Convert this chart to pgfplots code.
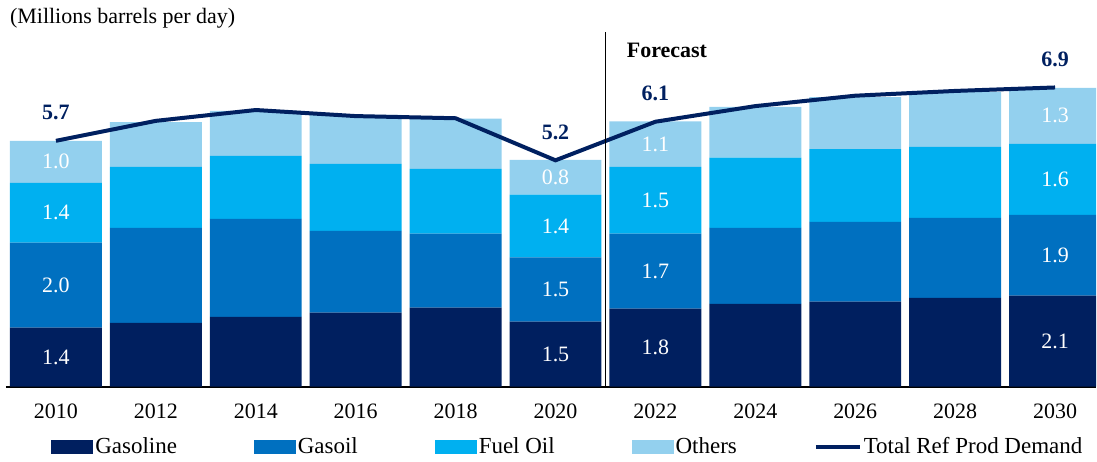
\documentclass[border=0pt]{standalone}
\usepackage{fontspec}
\setmainfont{Liberation Serif}
\usepackage{pgfplots}
\usepackage{pgfplotstable}
\pgfplotsset{compat=1.18}
\definecolor{cGasoline}{HTML}{001F5F}
\definecolor{cGasoil}{HTML}{0070C0}
\definecolor{cFuel}{HTML}{00B0F0}
\definecolor{cOthers}{HTML}{93D0EE}
\definecolor{cLine}{HTML}{002060}

\pgfplotsset{
  mybarleg/.style={legend image code/.code={\fill[##1,draw=none] (0pt,-3.5pt) rectangle (21pt,3.5pt);}},
  mylineleg/.style={legend image code/.code={\draw[##1] (0pt,0pt) -- (22pt,0pt);}},
}

\pgfplotstableread{
x gas gasoil fuel oth tot
0 1.36 1.96 1.38 0.97 5.67
1 1.47 2.19 1.41 1.03 6.13
2 1.61 2.26 1.45 1.04 6.38
3 1.71 1.88 1.55 1.13 6.24
4 1.82 1.71 1.49 1.16 6.19
5 1.50 1.48 1.45 0.80 5.22
6 1.80 1.73 1.54 1.05 6.11
7 1.91 1.75 1.62 1.17 6.47
8 1.96 1.84 1.68 1.20 6.71
9 2.05 1.84 1.64 1.27 6.82
10 2.10 1.86 1.64 1.29 6.90
}\datatable

\begin{document}
\begin{tikzpicture}
\begin{axis}[
  name=main,
  scale only axis, width=545.5pt, height=177.5pt,
  xmin=-0.5, xmax=10.41, ymin=0, ymax=8.18,
  ybar stacked, bar width=0.92,
  axis x line=bottom, axis y line=none,
  x axis line style={-, line width=1pt, black},
  xtick={0,1,2,3,4,5,6,7,8,9,10},
  xticklabels={2010,2012,2014,2016,2018,2020,2022,2024,2026,2028,2030},
  major tick length=0pt,
  xticklabel style={font=\fontsize{11}{13}\selectfont, yshift=-5pt},
  legend columns=5,
  legend style={draw=none, fill=none, inner sep=0pt,
    at={(0,0)}, anchor=west, xshift=22.5pt, yshift=-30pt,
    font=\fontsize{11.5}{13}\selectfont,
    /tikz/every odd column/.append style={column sep=-1pt},
    /tikz/every even column/.append style={column sep=36.5pt}},
  legend cell align=left,
]
\addplot[fill=cGasoline, draw=none, mybarleg] table[x=x, y=gas] {\datatable};
\addlegendentry{Gasoline}
\addplot[fill=cGasoil, draw=none, mybarleg] table[x=x, y=gasoil] {\datatable};
\addlegendentry{Gasoil}
\addplot[fill=cFuel, draw=none, mybarleg] table[x=x, y=fuel] {\datatable};
\addlegendentry{Fuel Oil}
\addplot[fill=cOthers, draw=none, mybarleg] table[x=x, y=oth] {\datatable};
\addlegendentry{Others}
\addlegendimage{cLine, line width=2pt, mylineleg}
\addlegendentry{Total Ref Prod Demand}
\end{axis}

\begin{axis}[
  at={(main.south west)}, anchor=south west,
  scale only axis, width=545.5pt, height=177.5pt,
  xmin=-0.5, xmax=10.41, ymin=0, ymax=8.18, hide axis]
\addplot[draw=cLine, line width=2pt, mark=none] table[x=x, y=tot] {\datatable};
\addplot[black, line width=0.8pt, mark=none] coordinates {(5.5,0) (5.5,8.18)};
\node[anchor=west, inner sep=0pt, font=\bfseries\fontsize{11}{13}\selectfont] at (axis cs:5.71,7.76) {Forecast};
\node[font=\bfseries\fontsize{11}{13}\selectfont, text=cLine, yshift=14pt] at (axis cs:0,5.67) {5.7};
\node[font=\bfseries\fontsize{11}{13}\selectfont, text=cLine, yshift=14pt] at (axis cs:5,5.22) {5.2};
\node[font=\bfseries\fontsize{11}{13}\selectfont, text=cLine, yshift=14pt] at (axis cs:6,6.11) {6.1};
\node[font=\bfseries\fontsize{11}{13}\selectfont, text=cLine, yshift=14pt] at (axis cs:10,6.90) {6.9};
\node[font=\fontsize{11}{13}\selectfont, text=white] at (axis cs:0,0.68) {1.4};
\node[font=\fontsize{11}{13}\selectfont, text=white] at (axis cs:0,2.34) {2.0};
\node[font=\fontsize{11}{13}\selectfont, text=white] at (axis cs:0,4.01) {1.4};
\node[font=\fontsize{11}{13}\selectfont, text=white] at (axis cs:0,5.185) {1.0};
\node[font=\fontsize{11}{13}\selectfont, text=white] at (axis cs:5,0.75) {1.5};
\node[font=\fontsize{11}{13}\selectfont, text=white] at (axis cs:5,2.24) {1.5};
\node[font=\fontsize{11}{13}\selectfont, text=white] at (axis cs:5,3.705) {1.4};
\node[font=\fontsize{11}{13}\selectfont, text=white] at (axis cs:5,4.83) {0.8};
\node[font=\fontsize{11}{13}\selectfont, text=white] at (axis cs:6,0.90) {1.8};
\node[font=\fontsize{11}{13}\selectfont, text=white] at (axis cs:6,2.665) {1.7};
\node[font=\fontsize{11}{13}\selectfont, text=white] at (axis cs:6,4.30) {1.5};
\node[font=\fontsize{11}{13}\selectfont, text=white] at (axis cs:6,5.595) {1.1};
\node[font=\fontsize{11}{13}\selectfont, text=white] at (axis cs:10,1.05) {2.1};
\node[font=\fontsize{11}{13}\selectfont, text=white] at (axis cs:10,3.03) {1.9};
\node[font=\fontsize{11}{13}\selectfont, text=white] at (axis cs:10,4.78) {1.6};
\node[font=\fontsize{11}{13}\selectfont, text=white] at (axis cs:10,6.245) {1.3};
\end{axis}
\node[anchor=west, font=\fontsize{11}{13}\selectfont] at ([xshift=-1.5pt,yshift=7pt]main.north west) {(Millions barrels per day)};
\path (main.south west) ++(-3pt,-37.5pt) rectangle ++(548.5pt,231pt);
\end{tikzpicture}
\end{document}
